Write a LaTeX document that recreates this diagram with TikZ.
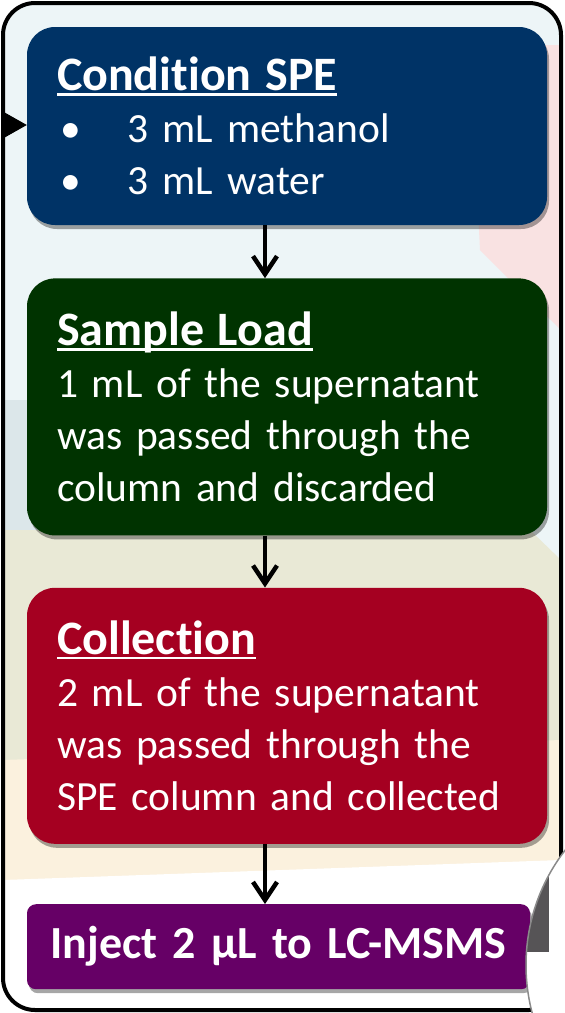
\documentclass[tikz,border=0pt]{standalone}
\usepackage{fontspec}
\setmainfont{Carlito}[Ligatures=NoCommon, RawFeature={-clig;-dlig}]
\usetikzlibrary{arrows.meta, positioning, shadows}
\definecolor{condblue}{HTML}{003366}
\definecolor{loadgreen}{HTML}{003300}
\definecolor{collectred}{HTML}{A50021}
\definecolor{injectpurple}{HTML}{660066}
\definecolor{panelbg}{HTML}{EDF5F7}
\definecolor{washpink}{HTML}{F9E2E2}
\definecolor{washblue}{HTML}{DCE7EA}
\definecolor{washbeige}{HTML}{E9E9D6}
\definecolor{washsand}{HTML}{FBF1DE}
\definecolor{lensgray}{HTML}{8A8A8A}
\definecolor{lensdark}{HTML}{565456}
\newcommand{\steptitle}[1]{\setbox0\hbox{\fontsize{48}{52}\selectfont\bfseries #1}\rlap{\rule[-5pt]{\wd0}{2.5pt}}\box0}
\newcommand{\bulletitem}[1]{\hspace*{3pt}\makebox[68pt][l]{\textbullet}#1}
\tikzset{
    base/.style={text=white, font=\fontsize{41.5}{52}\selectfont, align=left, inner xsep=30pt, inner ysep=0pt,
        drop shadow={shadow xshift=2pt, shadow yshift=-4pt, opacity=0.35, fill=black}},
    stepbox/.style={base, fill=#1, text width=460pt, rounded corners=28pt},
    injectbox/.style={base, fill=injectpurple, align=center, inner xsep=5pt, text width=493pt,
        rounded corners=9pt, minimum height=85pt, font=\bfseries\fontsize{46}{52}\selectfont},
    line/.style={draw=black, line width=4.5pt, -{Straight Barb[length=18pt, width=24pt]}},
    entry/.style={draw=black, line width=1pt, -{Triangle[length=25pt, width=28pt]}}
}
\begin{document}
\begin{tikzpicture}[x=1pt, y=-1pt]
    \useasboundingbox (0,0) rectangle (565,1013);
    % panel and faint wash behind it
    \fill[panelbg, rounded corners=32pt] (3,3) rectangle (561,1010);
    \begin{scope}
        \clip[rounded corners=32pt] (3,3) rectangle (561,1010);
        \fill[washpink] (470,45) -- (561,45) -- (561,330) -- (520,290) -- (480,250) -- cycle;
        \fill[washblue] (3,400) -- (300,400) -- (300,530) -- (3,530) -- cycle;
        \fill[washbeige] (3,530) -- (530,530) -- (561,560) -- (561,880) -- (3,880) -- cycle;
        \fill[washsand] (3,760) -- (561,740) -- (561,880) -- (3,880) -- cycle;
        \fill[white] (3,880) -- (561,860) -- (561,1010) -- (3,1010) -- cycle;
    \end{scope}

    \node [stepbox=condblue, minimum height=198pt] (cond) at (287,126)
        {\steptitle{Condition SPE}\\\bulletitem{3 mL methanol}\\\bulletitem{3 mL water}};
    \node [stepbox=loadgreen, minimum height=257pt, below=53pt of cond] (load)
        {\steptitle{Sample Load}\\1 mL of the supernatant\\was passed through the\\column and discarded};
    \node [stepbox=collectred, minimum height=256pt, below=52pt of load] (collect)
        {\steptitle{Collection}\\2 mL of the supernatant\\was passed through the\\SPE column and collected};
    \node [injectbox, below=60pt of collect.south west, anchor=north west] (inject)
        {Inject 2 µL to LC-MSMS};

    \draw [line] ([xshift=-22pt]cond.south) -- ([xshift=-22pt]load.north);
    \draw [line] ([xshift=-22pt]load.south) -- ([xshift=-22pt]collect.north);
    \draw [line] ([xshift=-22pt]collect.south) -- ([xshift=-22pt]inject.north -| cond.south);

    \draw[line width=4pt, rounded corners=32pt] (3,3) rectangle (561,1010);
    \coordinate (feed) at (2,125);
    \draw [entry] (feed) -- (feed -| cond.west);

    % page corner lens
    \begin{scope}
        \clip (0,0) rectangle (565,1013);
        \fill[white] (714,965) circle (188);
        \begin{scope}
            \clip (714,965) circle (188);
            \fill[lensdark] (500,873) rectangle (549,952);
        \end{scope}
        \draw[lensgray, line width=1.5pt] (714,965) circle (188);
    \end{scope}
\end{tikzpicture}
\end{document}
